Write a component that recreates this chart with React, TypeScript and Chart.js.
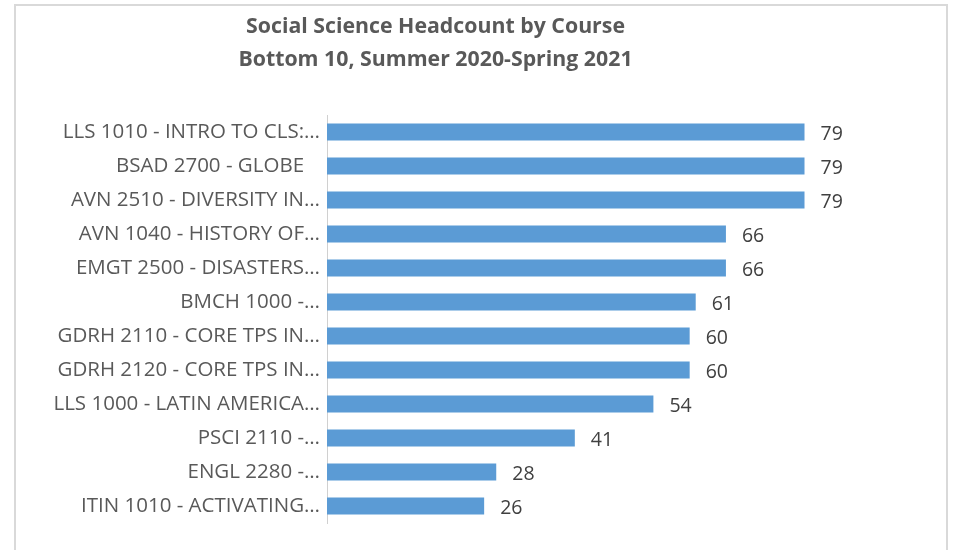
import React, { useEffect, useRef } from "react";
import { Chart, registerables } from "chart.js";

Chart.register(...registerables);

const titleLines = ["Social Science Headcount by Course", "Bottom 10, Summer 2020-Spring 2021"];

const courses = [
  "LLS 1010 - INTRO TO CLS:…",
  "BSAD 2700 - GLOBE   ",
  "AVN 2510 - DIVERSITY IN…",
  "AVN 1040 - HISTORY OF…",
  "EMGT 2500 - DISASTERS…",
  "BMCH 1000 -…",
  "GDRH 2110 - CORE TPS IN…",
  "GDRH 2120 - CORE TPS IN…",
  "LLS 1000 - LATIN AMERICA…",
  "PSCI 2110 -…",
  "ENGL 2280 -…",
  "ITIN 1010 - ACTIVATING…",
];

const headcount = [79, 79, 79, 66, 66, 61, 60, 60, 54, 41, 28, 26];

const FONT = "'Open Sans', Lato, sans-serif";

export default function App() {
  const ref = useRef<HTMLCanvasElement | null>(null);

  useEffect(() => {
    document.body.style.margin = "0";
    const canvas = ref.current;
    if (!canvas) return;

    const frame = {
      id: "frame",
      beforeDraw(chart: any) {
        const ctx = chart.ctx;
        ctx.save();
        ctx.fillStyle = "#ffffff";
        ctx.fillRect(0, 0, chart.width, chart.height);
        ctx.strokeStyle = "#d9d9d9";
        ctx.lineWidth = 2;
        ctx.strokeRect(15, 5, 932, 600);
        ctx.restore();
      },
    };

    const valueLabels = {
      id: "valueLabels",
      afterDatasetsDraw(chart: any) {
        const ctx = chart.ctx;
        const meta = chart.getDatasetMeta(0);
        ctx.save();
        ctx.fillStyle = "#404040";
        ctx.font = `19.5px ${FONT}`;
        ctx.textAlign = "left";
        ctx.textBaseline = "middle";
        meta.data.forEach((el: any, i: number) => {
          ctx.fillText(String(chart.data.datasets[0].data[i]), el.x + 16, el.y + 2);
        });
        ctx.restore();
      },
    };

    const chart = new Chart(canvas, {
      type: "bar",
      data: {
        labels: courses,
        datasets: [
          {
            data: headcount,
            backgroundColor: "#5b9bd5",
            borderWidth: 0,
            barPercentage: 0.5,
            categoryPercentage: 1,
          },
        ],
      },
      options: {
        indexAxis: "y",
        responsive: false,
        animation: false,
        layout: { padding: { left: 0, right: 86, top: 0, bottom: 27 } },
        plugins: {
          legend: { display: false },
          tooltip: { enabled: false },
          title: {
            display: true,
            text: titleLines,
            color: "#595959",
            font: { family: FONT, size: 21.3, weight: "bold", lineHeight: 33 / 21.3 },
            padding: { top: 10.5, bottom: 38.5 },
          },
        },
        scales: {
          x: { display: false, min: 0, max: 90 },
          y: {
            grid: { display: false, drawTicks: false },
            border: { display: true, color: "#d0d0d0", width: 1 },
            ticks: {
              color: "#595959",
              font: { family: FONT, size: 20.5 },
              padding: 7,
              autoSkip: false,
            },
            afterFit(scale: any) {
              scale.width = 327;
            },
          },
        },
      },
      plugins: [frame, valueLabels],
    } as any);

    return () => chart.destroy();
  }, []);

  return <canvas ref={ref} width={957} height={550} style={{ display: "block" }} />;
}
